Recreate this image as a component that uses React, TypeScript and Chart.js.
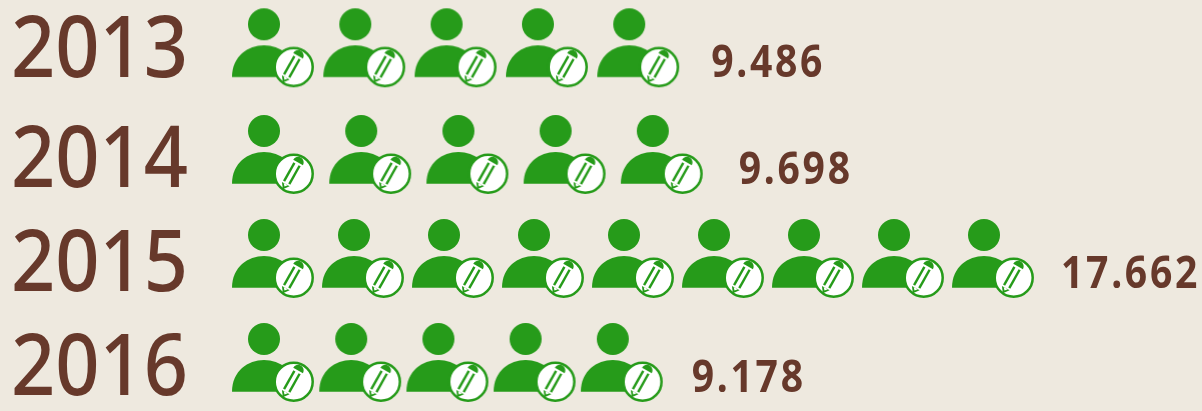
import React, { useEffect, useRef } from "react";
import { Chart, registerables } from "chart.js";

Chart.register(...registerables);

// Data
const years = ["2013", "2014", "2015", "2016"];
const iconCounts = [5, 5, 9, 5];
const valueLabels = ["9.486", "9.698", "17.662", "9.178"];

// Layout (pixel-aligned scale units)
const rowHeadY = [24.3, 131, 235, 339];
const rowPitch = [91.3, 97.2, 90, 87.2];
const firstHeadX = 264;
const labelGap = [82, 86, 77, 79];
const yearDrop = [53, 56, 56, 56];
const GREEN = "#269B1A";
const BROWN = "#67392B";
const BG = "#EEE9DF";
const SPRITE = 140;

function makeIcon(): HTMLCanvasElement {
  const c = document.createElement("canvas");
  c.width = SPRITE;
  c.height = SPRITE;
  const g = c.getContext("2d")!;
  g.translate(SPRITE / 2, SPRITE / 2);
  g.fillStyle = GREEN;
  // head
  g.beginPath();
  g.arc(0, 0, 16, 0, Math.PI * 2);
  g.fill();
  // shoulders
  g.beginPath();
  g.moveTo(-32, 52.7);
  g.bezierCurveTo(-32, 32, -16, 21, 0, 21);
  g.bezierCurveTo(16, 21, 32, 32, 32, 52.7);
  g.closePath();
  g.fill();
  // badge
  g.translate(29.7, 42.7);
  g.beginPath();
  g.arc(0, 0, 19, 0, Math.PI * 2);
  g.fillStyle = "#fff";
  g.fill();
  g.lineWidth = 2.5;
  g.strokeStyle = GREEN;
  g.stroke();
  // pencil
  g.translate(-2, 0);
  g.rotate((29.5 * Math.PI) / 180);
  g.fillStyle = GREEN;
  g.beginPath();
  g.arc(0, -13, 5.6, Math.PI, 0);
  g.closePath();
  g.fill();
  g.fillRect(-4.2, -10.8, 2.4, 21);
  g.fillRect(1.8, -10.8, 2.4, 21);
  g.beginPath();
  g.moveTo(-4.4, 12);
  g.lineTo(4.4, 12);
  g.lineTo(0, 18);
  g.closePath();
  g.fill();
  g.fillStyle = "#fff";
  g.beginPath();
  g.moveTo(-2.4, 12);
  g.lineTo(2.4, 12);
  g.lineTo(0, 14.6);
  g.closePath();
  g.fill();
  return c;
}

export default function App() {
  const ref = useRef<HTMLCanvasElement>(null);

  useEffect(() => {
    document.body.style.margin = "0";
    document.body.style.background = BG;
    const icon = makeIcon();

    const textPlugin = {
      id: "rowText",
      afterDatasetsDraw(chart: any) {
        const { ctx, scales } = chart;
        ctx.save();
        ctx.fillStyle = BROWN;
        ctx.textBaseline = "alphabetic";
        ctx.textAlign = "left";
        years.forEach((yr, i) => {
          const y = scales.y.getPixelForValue(rowHeadY[i]);
          // year label
          ctx.save();
          ctx.font = '500 86px "Noto Sans"';
          ctx.translate(11, y + yearDrop[i]);
          ctx.scale(0.9, 1);
          ctx.fillText(yr, 0, 0);
          ctx.restore();
          // value label
          const lastX =
            firstHeadX + (iconCounts[i] - 1) * rowPitch[i] + labelGap[i];
          ctx.save();
          ctx.font = 'bold 44px "Noto Sans"';
          ctx.translate(scales.x.getPixelForValue(lastX), y + 53);
          ctx.scale(0.89, 1);
          (ctx as any).letterSpacing = "3px";
          ctx.fillText(valueLabels[i], 0, 0);
          ctx.restore();
        });
        ctx.restore();
      },
    };

    const chart = new Chart(ref.current!, {
      type: "scatter",
      data: {
        datasets: years.map((yr, r) => ({
          label: yr,
          data: Array.from({ length: iconCounts[r] }, (_, i) => ({
            x: firstHeadX + i * rowPitch[r],
            y: rowHeadY[r],
          })),
          pointStyle: icon,
          pointRadius: SPRITE / 2,
          clip: false,
        })),
      },
      options: {
        animation: false,
        responsive: false,
        layout: { padding: 0, autoPadding: false },
        plugins: { legend: { display: false }, tooltip: { enabled: false } },
        scales: {
          x: { type: "linear", min: 0, max: 1202, display: false },
          y: { type: "linear", min: 0, max: 411, reverse: true, display: false },
        },
      },
      plugins: [textPlugin],
    } as any);
    return () => chart.destroy();
  }, []);

  return (
    <div style={{ width: 1202, height: 411, background: BG }}>
      <canvas ref={ref} width={1202} height={411} style={{ display: "block" }} />
    </div>
  );
}
